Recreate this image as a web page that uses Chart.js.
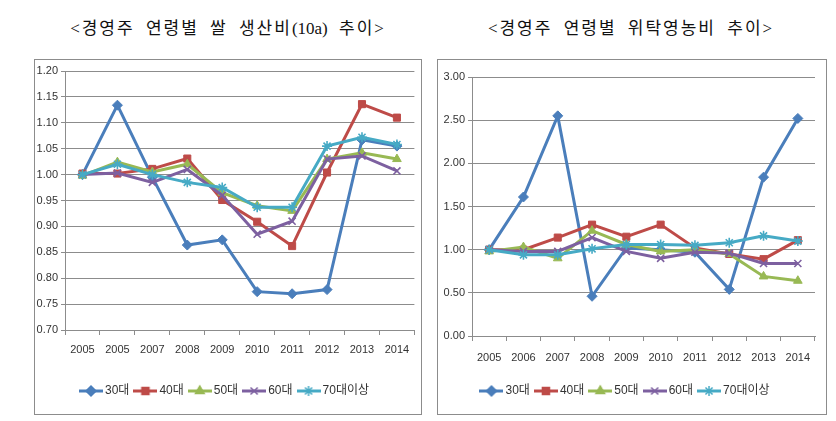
<!DOCTYPE html>
<html lang="ko">
<head>
<meta charset="utf-8">
<script src="https://cdn.jsdelivr.net/npm/chart.js@4/dist/chart.umd.min.js"></script>
<style>
  body { margin: 0; background: #fff; width: 836px; height: 421px; position: relative; overflow: hidden; }
  .title {
    position: absolute; top: 14px; font: 17px "Liberation Serif", "Noto Sans CJK KR", serif;
    letter-spacing: 2px; word-spacing: 5px; color: #111; white-space: nowrap; transform: translateX(-50%);
  }
  .title span { letter-spacing: 0; }
  .box { position: absolute; top: 59px; height: 356px; border: 1px solid #8c8c8c; box-sizing: border-box; }
  .box canvas { position: absolute; left: 0; top: 0; }
</style>
</head>
<body>
<div class="title" style="left:228px">&lt;경영주 연령별 쌀 생산비<span>(10a)</span> 추이&gt;</div>
<div class="title" style="left:631px">&lt;경영주 연령별 위탁영농비 추이&gt;</div>
<div class="box" style="left:34px; width:388px"><canvas id="costChart" width="386" height="354"></canvas></div>
<div class="box" style="left:437px; width:390px"><canvas id="consignChart" width="388" height="354"></canvas></div>

<script>
// 범례 / 계열
const seriesNames = ["30대", "40대", "50대", "60대", "70대이상"];
const seriesColors = ["#4a7ebb", "#be4b48", "#98b954", "#7d60a0", "#46aac5"];
const seriesMarkers = ["rectRot", "rect", "triangle", "crossRot", "star"];

// 쌀 생산비(10a) 추이
const costYears = ["2005", "2005", "2007", "2008", "2009", "2010", "2011", "2012", "2013", "2014"];
const cost30 = [1.000, 1.134, 0.995, 0.864, 0.874, 0.774, 0.770, 0.778, 1.067, 1.055];
const cost40 = [1.002, 1.002, 1.011, 1.031, 0.951, 0.909, 0.862, 1.004, 1.136, 1.110];
const cost50 = [0.998, 1.024, 1.005, 1.020, 0.965, 0.940, 0.930, 1.030, 1.042, 1.030];
const cost60 = [1.000, 1.003, 0.985, 1.010, 0.960, 0.885, 0.910, 1.030, 1.036, 1.007];
const cost70 = [1.000, 1.020, 1.000, 0.985, 0.975, 0.937, 0.937, 1.055, 1.072, 1.058];
const costTicks = { min: 0.70, max: 1.20, step: 0.05 };

// 위탁영농비 추이
const consignYears = ["2005", "2006", "2007", "2008", "2009", "2010", "2011", "2012", "2013", "2014"];
const consign30 = [1.00, 1.61, 2.55, 0.46, 1.02, 1.00, 0.97, 0.54, 1.84, 2.52];
const consign40 = [1.00, 1.00, 1.14, 1.29, 1.15, 1.29, 1.02, 0.95, 0.89, 1.11];
const consign50 = [0.98, 1.03, 0.90, 1.22, 1.06, 0.98, 1.00, 0.95, 0.69, 0.64];
const consign60 = [1.00, 0.98, 0.98, 1.14, 0.98, 0.90, 0.97, 0.96, 0.84, 0.84];
const consign70 = [1.00, 0.94, 0.94, 1.01, 1.06, 1.06, 1.05, 1.08, 1.16, 1.10];
const consignTicks = { min: 0, max: 3, step: 0.5 };

const tickFont = { family: "'Liberation Sans', Arial, sans-serif", size: 11 };
const legendFont = { family: "'Liberation Sans', 'Noto Sans CJK KR', sans-serif", size: 12 };

// 범례 아이콘: 선 + 마커
function legendIcon(i) {
  const c = document.createElement("canvas");
  c.width = 24; c.height = 14;
  const g = c.getContext("2d");
  g.strokeStyle = seriesColors[i];
  g.fillStyle = seriesColors[i];
  g.lineWidth = 3;
  g.beginPath(); g.moveTo(0, 7); g.lineTo(24, 7); g.stroke();
  g.lineWidth = 1.5;
  Chart.helpers.drawPoint(g, { pointStyle: seriesMarkers[i], radius: 5, borderWidth: 1.5, rotation: 0 }, 12, 7);
  return c;
}

function makeDatasets(values) {
  return values.map((v, i) => ({
    label: seriesNames[i],
    data: v,
    borderColor: seriesColors[i],
    backgroundColor: seriesColors[i],
    borderWidth: 3,
    pointStyle: seriesMarkers[i],
    pointRadius: 5,
    pointBorderWidth: i >= 3 ? 1.6 : 1,
    pointBackgroundColor: seriesColors[i],
    pointBorderColor: seriesColors[i],
    tension: 0,
    order: 4 - i,
  }));
}

function makeConfig(labels, values, ticks, yWidth, xHeight, xPad, padRight, padTop) {
  return {
    type: "line",
    data: { labels: labels, datasets: makeDatasets(values) },
    options: {
      responsive: false,
      animation: false,
      layout: { padding: { top: padTop, right: padRight, bottom: 7, left: 0 } },
      plugins: {
        tooltip: { enabled: false },
        legend: {
          position: "bottom",
          labels: {
            usePointStyle: true,
            pointStyleWidth: 16,
            padding: 8,
            color: "#333",
            font: legendFont,
            generateLabels: (chart) =>
              chart.data.datasets.map((ds, i) => ({
                text: ds.label,
                datasetIndex: i,
                pointStyle: legendIcon(i),
                fillStyle: seriesColors[i],
                strokeStyle: seriesColors[i],
                lineWidth: 0,
                fontColor: "#333",
              })),
          },
        },
      },
      scales: {
        x: {
          offset: true,
          grid: { offset: true, drawOnChartArea: false, drawTicks: true, tickLength: 5, color: "#8c8c8c" },
          border: { color: "#8c8c8c" },
          ticks: { color: "#333", font: tickFont, padding: xPad, maxRotation: 0, autoSkip: false },
          afterFit: (s) => { s.height = xHeight; },
        },
        y: {
          min: ticks.min,
          max: ticks.max,
          grid: { color: "#8c8c8c", tickLength: 4 },
          border: { color: "#8c8c8c" },
          ticks: {
            stepSize: ticks.step,
            color: "#333",
            font: tickFont,
            padding: 3,
            callback: (v) => Number(v).toFixed(2),
          },
          afterFit: (s) => { s.width = yWidth; },
        },
      },
    },
  };
}

window.addEventListener("DOMContentLoaded", () => {
  new Chart(document.getElementById("costChart"),
    makeConfig(costYears, [cost30, cost40, cost50, cost60, cost70], costTicks, 30, 47, 8, 4, 11));
  new Chart(document.getElementById("consignChart"),
    makeConfig(consignYears, [consign30, consign40, consign50, consign60, consign70], consignTicks, 34, 41, 10, 11, 17));
});
</script>
</body>
</html>
